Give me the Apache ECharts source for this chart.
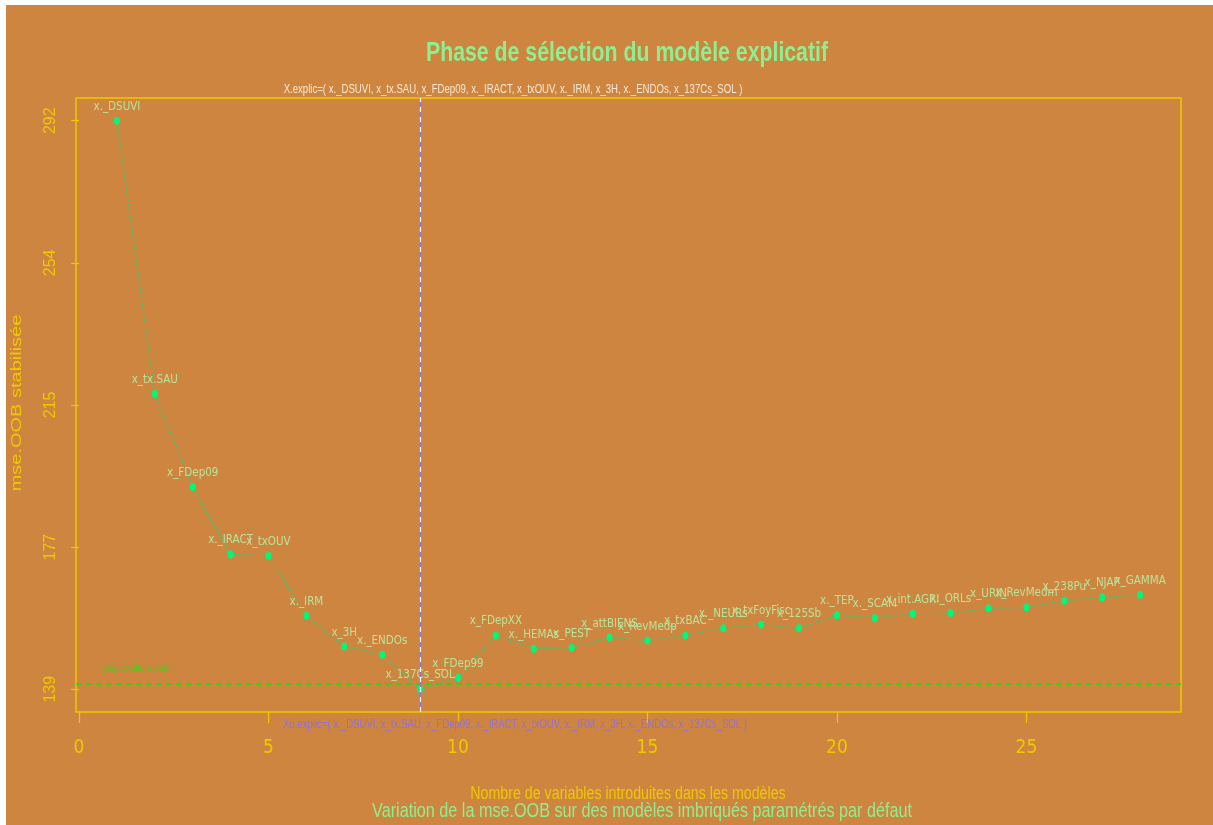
<!DOCTYPE html>
<html lang="fr">
<head>
  <meta charset="utf-8">
  <style>
    html, body { margin: 0; padding: 0; width: 100%; height: 100%; overflow: hidden; background: #fff; }
    #container { position: absolute; left: 6px; top: 5px; width: 1207px; height: 820px; }
  </style>
  <script src="https://cdn.jsdelivr.net/npm/echarts@6/dist/echarts.min.js"></script>
</head>
<body>
  <div id="container"></div>
  <script>
    // nombre de variables dans chaque modele imbrique
    const nbVars = [1, 2, 3, 4, 5, 6, 7, 8, 9, 10, 11, 12, 13, 14, 15, 16, 17, 18, 19, 20, 21, 22, 23, 24, 25, 26, 27, 28];
    // mse.OOB stabilisee
    const mseOOB = [292.0, 218.5, 193.4, 175.3, 174.9, 158.8, 150.5, 148.3, 139.0, 142.1,
      153.5, 149.9, 150.2, 152.9, 152.1, 153.5, 155.4, 156.4, 155.4, 158.9,
      158.2, 159.3, 159.5, 160.8, 161.0, 162.8, 163.7, 164.4];
    // variable ajoutee a chaque etape
    const varNames = ['x._DSUVI', 'x_tx.SAU', 'x_FDep09', 'x._IRACT', 'x_txOUV', 'x._IRM', 'x_3H', 'x._ENDOs',
      'x_137Cs_SOL', 'x_FDep99', 'x_FDepXX', 'x._HEMAs', 'x_PEST', 'x_attBIENS', 'x_RevMedp', 'x_txBAC',
      'x._NEURs', 'x_txFoyFisc', 'x_125Sb', 'x._TEP', 'x._SCAM', 'x_int.AGRI', 'x._ORLs', 'x_URIN',
      'x_RevMedm', 'x_238Pu', 'x_NJAP', 'x_GAMMA'];
    const xTicks = [0, 5, 10, 15, 20, 25];
    const yTicks = [139, 177.25, 215.5, 253.75, 292];
    const yTickLabels = ['139', '177', '215', '254', '292'];
    const nbRetenu = 9;          // modele explicatif retenu
    const seuilPsy = 140.6;      // psy.explic.utilise

    const narrow = '"Liberation Sans Narrow", "DejaVu Sans Condensed", "Arial Narrow", sans-serif';
    const gold = '#EEC900';
    const vert = '#90EE90';

    var dom = document.getElementById('container');
    var myChart = echarts.init(dom, null, { renderer: 'canvas' });

    const xExplic = 'X.explic=( ' + varNames.slice(0, nbRetenu).join(', ') + ' )';
    const xoExplic = 'Xo.explic=( ' + varNames.slice(0, nbRetenu).join(', ') + ' )';

    function txt(x, y, text, opt) {
      return {
        type: 'text', x: x - 6, y: y - 5,
        scaleX: opt.sx || 0.77, scaleY: opt.sy || 1, rotation: opt.rot || 0,
        silent: true, z: 10,
        style: {
          text: text, fill: opt.color, fontSize: opt.size, fontWeight: opt.weight || 'normal',
          fontFamily: opt.family || 'Arial, "Liberation Sans", sans-serif',
          align: opt.align || 'center', verticalAlign: 'middle'
        }
      };
    }

    var option = {
      backgroundColor: '#CD853F',
      animation: false,
      grid: {
        left: 70, top: 93, width: 1105, height: 614,
        show: true, borderColor: gold, borderWidth: 1.5, backgroundColor: 'transparent'
      },
      xAxis: {
        type: 'value', min: -0.08, max: 29.08,
        axisLine: { show: false },
        splitLine: { show: false },
        axisTick: { show: true, length: 11, lineStyle: { color: gold, width: 1.2 }, customValues: xTicks },
        axisLabel: { color: gold, fontSize: 19, fontFamily: narrow, margin: 27, customValues: xTicks }
      },
      yAxis: {
        type: 'value', min: 132.88, max: 298.12,
        axisLine: { show: false },
        splitLine: { show: false },
        axisTick: { show: true, length: 8, lineStyle: { color: gold, width: 1.2 }, customValues: yTicks },
        axisLabel: {
          color: gold, fontSize: 16, fontFamily: 'Arial, sans-serif', rotate: 90, margin: 17,
          customValues: yTicks, formatter: v => yTickLabels[yTicks.indexOf(v)]
        }
      },
      series: [{
        type: 'line',
        data: nbVars.map((n, i) => [n, mseOOB[i]]),
        symbol: 'circle',
        symbolSize: [6, 8],
        itemStyle: { color: '#00F77A' },
        lineStyle: { color: '#33CC77', width: 1.2, type: [2, 2] },
        label: {
          show: true, position: 'top', distance: 4,
          color: '#B9E39A', fontSize: 11.5, fontFamily: narrow,
          formatter: p => varNames[p.dataIndex]
        },
        markLine: {
          silent: true, symbol: 'none', animation: false,
          label: { show: false },
          data: [
            { yAxis: seuilPsy, lineStyle: { color: '#22E000', width: 1.5, type: [6, 4] } },
            { xAxis: nbRetenu, lineStyle: { color: '#9370DB', width: 1.2, type: 'solid' } },
            { xAxis: nbRetenu, lineStyle: { color: '#FFFFFF', width: 1.2, type: [5, 5] } }
          ]
        }
      }],
      graphic: [
        txt(627, 53, 'Phase de sélection du modèle explicatif', { color: vert, size: 28, weight: 'bold', sx: 0.76 }),
        txt(513, 90, xExplic, { color: '#F6E8D6', size: 12, sx: 0.8 }),
        txt(515, 725, xoExplic, { color: '#9370DB', size: 12, sx: 0.8 }),
        txt(104, 668, 'psy.explic.utilisé', { color: '#55C81E', size: 11, align: 'left', sx: 0.85 }),
        txt(628, 794, 'Nombre de variables introduites dans les modèles', { color: gold, size: 18, sx: 0.79 }),
        txt(642, 811, 'Variation de la mse.OOB sur des modèles imbriqués paramétrés par défaut', { color: vert, size: 20, sx: 0.81 }),
        txt(17, 403, 'mse.OOB stabilisée', { color: gold, size: 20, rot: Math.PI / 2, sx: 1, sy: 0.75 })
      ]
    };
    myChart.setOption(option);
    window.addEventListener('resize', myChart.resize);
  </script>
</body>
</html>
